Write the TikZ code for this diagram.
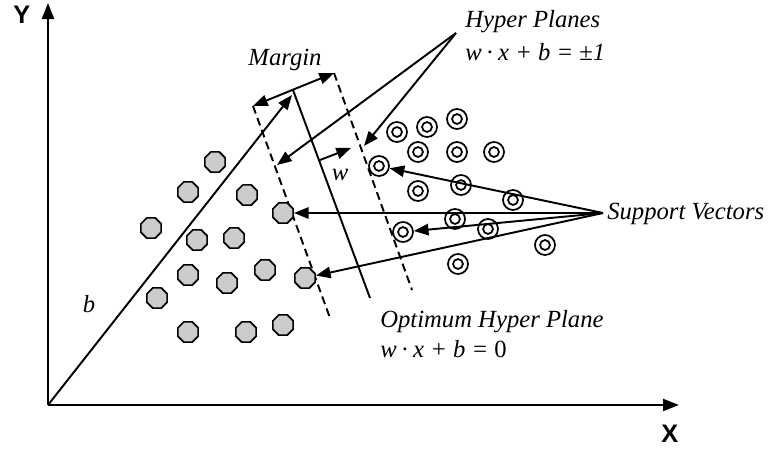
\documentclass[tikz,border=0pt]{standalone}
\usepackage{fontspec}
\setmainfont{Liberation Serif}
\newfontfamily\axisfont{Liberation Sans}
\usetikzlibrary{arrows.meta,shapes.geometric}
\begin{document}
\begin{tikzpicture}[x=0.75pt,y=-0.75pt,
  ln/.style={line width=1.45pt},
  tri/.style={-{Triangle[length=11pt,width=8.5pt]}},
  dtri/.style={{Triangle[length=11pt,width=8.5pt]}-{Triangle[length=11pt,width=8.5pt]}},
  hdash/.style={line width=1.45pt,dash pattern=on 6pt off 3.5pt},
  negdot/.style={regular polygon,regular polygon sides=8,draw=black,line width=1.2pt,fill=black!20,minimum size=16.5pt,inner sep=0pt},
  posdot/.style={circle,draw=black,line width=1.3pt,fill=white,minimum size=15pt,inner sep=0pt,
    path picture={\draw[line width=1.3pt] (path picture bounding box.center) circle (3.7pt);}},
  lbl/.style={font=\fontsize{18.5}{22}\selectfont\itshape,inner sep=0pt},
  axl/.style={font=\fontsize{19}{22}\selectfont\axisfont\bfseries,inner sep=0pt}
]
\useasboundingbox (0,0) rectangle (772,450);
% axes
\coordinate (O) at (48,405);
\coordinate (ytop) at (48,3);
\coordinate (xend) at (679,405);
\draw[line width=1.7pt,-{Triangle[length=12pt,width=9pt]}] (O) -- (ytop);
\draw[line width=1.7pt,-{Triangle[length=12pt,width=9pt]}] (O) -- (xend);
\node[axl,anchor=base west] (ylab) at (13,23) {Y};
\node[axl,anchor=base west] (xlab) at (661,442) {X};
% hyperplanes
\coordinate (Lt) at (253,106);
\coordinate (Lb) at (330,318);
\coordinate (Rt) at (334,73);
\coordinate (Rb) at (412,290);
\coordinate (Mt) at (293,90);
\coordinate (Mb) at (370,298);
\draw[hdash] (Lt) -- (Lb);
\draw[hdash] (Rt) -- (Rb);
\draw[ln] (Mt) -- (Mb);
% margin
\draw[ln,dtri] (Lt) -- (Rt);
\node[lbl,anchor=base] (margin) at (285,65) {Margin};
% b vector
\coordinate (btip) at (292,95);
\draw[ln,tri] (O) -- (btip);
\node[lbl,anchor=base] (blab) at (89,312) {b};
% w vector
\coordinate (ws) at (320,160);
\coordinate (we) at (351,148);
\draw[ln,tri] (ws) -- (we);
\node[lbl,anchor=base] (wlab) at (340,180) {w};
% negative class
\foreach \n/\p in {n1/{(215,162)},n2/{(188,192)},n3/{(247,195)},n4/{(283,213)},n5/{(151,228)},
  n6/{(197,240)},n7/{(234,238)},n8/{(188,275)},n9/{(227,283)},n10/{(265,270)},n11/{(305,278)},
  n12/{(157,298)},n13/{(188,332)},n14/{(246,332)},n15/{(283,325)}}
  \node[negdot] (\n) at \p {};
% positive class
\foreach \n/\p in {p1/{(397,132)},p2/{(427,127)},p3/{(457,119)},p4/{(418,152)},p5/{(457,152)},
  p6/{(494,152)},p7/{(379,166)},p8/{(418,191)},p9/{(461,185)},p10/{(513,200)},p11/{(455,219)},
  p12/{(488,229)},p13/{(403,232)},p14/{(545,245)},p15/{(458,264)}}
  \node[posdot] (\n) at \p {};
% hyper planes label
\node[lbl,anchor=base west] (hp1) at (465,27) {Hyper Planes};
\node[lbl,anchor=base west] (hp2) at (465,60) {w\,{\upshape·}\,x + b = {\upshape±}1};
\coordinate (hpsrc) at (456,33);
\coordinate (hpL) at (277,165);
\coordinate (hpR) at (364,146);
\draw[ln,tri] (hpsrc) -- (hpL);
\draw[ln,tri] (hpsrc) -- (hpR);
% optimum label
\node[lbl,anchor=base west] (op1) at (380,327) {Optimum Hyper Plane};
\node[lbl,anchor=base west] (op2) at (380,357) {w\,{\upshape·}\,x + b = {\upshape 0}};
% support vectors
\node[lbl,anchor=base west] (sv) at (607,219) {Support Vectors};
\coordinate (svsrc) at (603,213);
\draw[ln,tri] (svsrc) -- (p7);
\draw[ln,tri] (svsrc) -- (n4);
\draw[ln,tri] (svsrc) -- (p13);
\draw[ln,tri] (svsrc) -- (n11);
\end{tikzpicture}
\end{document}
